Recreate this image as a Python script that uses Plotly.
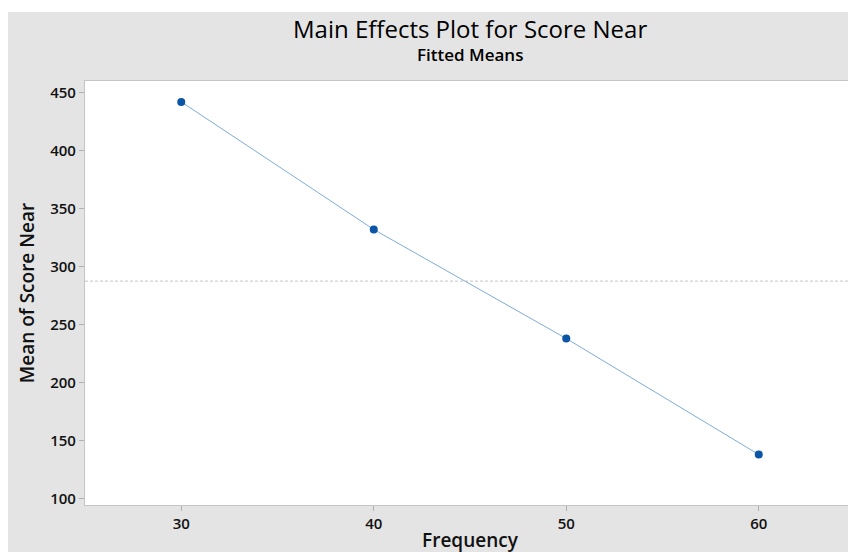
import plotly.graph_objects as go

frequency = [30, 40, 50, 60]
score_near = [442, 332, 238, 138]
y_ticks = [100, 150, 200, 250, 300, 350, 400, 450]
x_ticks = [30, 40, 50, 60]

mean_val = sum(score_near) / len(score_near)

FONT = "Open Sans"
GRAY = "#e4e4e4"

fig = go.Figure()
fig.add_trace(go.Scatter(
    x=frequency, y=score_near, mode="lines+markers",
    line=dict(color="#6fa3d8", width=0.9),
    marker=dict(color="#0a55a5", size=8),
    showlegend=False, hoverinfo="x+y",
))

W, H = 856, 552
ml, mr, mt, mb = 77, 9, 73, 55
pw, ph = W - ml - mr, H - mt - mb

def px_x(p):
    return (p - ml) / pw

def px_y(p):
    return (H - mb - p) / ph

# thin white strip at top of page
fig.add_shape(type="rect", xref="paper", yref="paper",
              x0=px_x(-2), x1=px_x(W + 2), y0=px_y(4), y1=px_y(-2),
              fillcolor="white", line=dict(width=0), layer="below")
fig.add_shape(type="line", xref="paper", yref="y", x0=0, x1=1,
              y0=mean_val, y1=mean_val,
              line=dict(color="#b5b5b5", width=0.8, dash="3px,2px"))

fig.add_annotation(text="Main Effects Plot for Score Near", xref="paper", yref="paper",
                   x=px_x(462), y=px_y(21), xanchor="center", yanchor="middle",
                   showarrow=False, font=dict(size=24, family=FONT, color="#000"))
fig.add_annotation(text="Fitted Means", xref="paper", yref="paper",
                   x=px_x(462), y=px_y(47), xanchor="center", yanchor="middle",
                   showarrow=False, font=dict(size=17, family=FONT, color="#000", weight=600))

fig.update_layout(
    width=W, height=H,
    margin=dict(l=ml, r=mr, t=mt, b=mb, autoexpand=False),
    paper_bgcolor=GRAY, plot_bgcolor="white",
    font=dict(family=FONT, color="#1a1a1a"),
    xaxis=dict(
        range=[25, 65], tickvals=x_ticks, ticks="outside", ticklen=5,
        tickcolor="#b0b0b0", showgrid=False, zeroline=False,
        showline=True, mirror=True, linecolor="#c4c4c4", linewidth=1.2,
        tickfont=dict(size=15, color="#111", weight=600),
        title=dict(text="Frequency", font=dict(size=19, color="#111", weight=600), standoff=1),
    ),
    yaxis=dict(
        range=[94.5, 460], tickvals=y_ticks, ticks="outside", ticklen=5,
        tickcolor="#b0b0b0", showgrid=False, zeroline=False,
        showline=True, mirror=True, linecolor="#c4c4c4", linewidth=1.2,
        tickfont=dict(size=15, color="#111", weight=600),
        title=dict(text="Mean of Score Near", font=dict(size=19, color="#111", weight=600), standoff=10),
    ),
)

fig.write_html("out.html")
